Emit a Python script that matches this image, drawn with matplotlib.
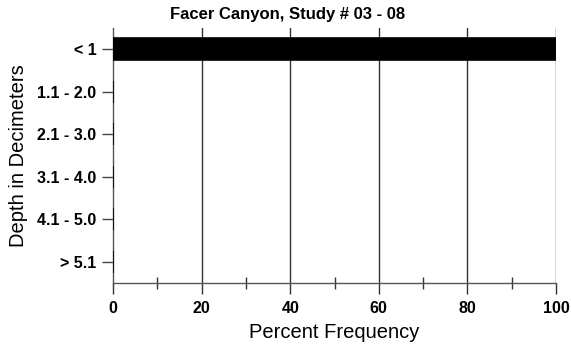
import matplotlib
matplotlib.use("Agg")
import matplotlib.pyplot as plt
import numpy as np

plt.rcParams['font.family'] = ['Liberation Sans', 'DejaVu Sans']

categories = ["< 1", "1.1 - 2.0", "2.1 - 3.0", "3.1 - 4.0", "4.1 - 5.0", "> 5.1"]
values = [100, 0, 0, 0, 0, 0]
xticks_major = [0, 20, 40, 60, 80, 100]
xticks_minor = [10, 30, 50, 70, 90]

fig = plt.figure(figsize=(5.71, 3.48), dpi=100)
ax = fig.add_axes([113/571, 1-283/348, (556-113)/571, (283-28)/348])

y = np.arange(len(categories))
ax.barh(y, values, height=0.52, color='black', edgecolor='black', linewidth=1.2, zorder=3)

ax.set_xlim(0, 100)
ax.set_ylim(len(categories) - 0.5, -0.5)

for gx in xticks_major[1:]:
    ax.axvline(gx, color='#333333', linewidth=1.0, zorder=1)

ax.set_xticks(xticks_major)
ax.set_xticks(xticks_minor, minor=True)
ax.set_xticklabels([str(v) for v in xticks_major], fontweight='bold', fontsize=11.5)
ax.tick_params(axis='x', which='major', direction='out', length=8, width=1, color='#333333', pad=5)
ax.tick_params(axis='x', which='minor', direction='inout', length=9, width=1, color='#333333')

ax.set_yticks(y)
ax.set_yticklabels(categories, fontweight='bold', fontsize=11.5)
ax.tick_params(axis='y', direction='out', length=8, width=1, color='#444444', pad=4)

for s in ['top', 'right']:
    ax.spines[s].set_visible(False)
for s in ['left', 'bottom']:
    ax.spines[s].set_color('#555555')
    ax.spines[s].set_linewidth(1.0)

ax.set_xlabel("Percent Frequency", fontsize=14.5)
ax.set_ylabel("Depth in Decimeters", fontsize=14.5)
ax.xaxis.set_label_coords(0.5, (283-333)/255)
ax.yaxis.set_label_coords((19-113)/443, 0.5)
ax.xaxis.label.set_va('center')
ax.yaxis.label.set_va('center')

fig.text(288/571, 1-15/348, "Facer Canyon, Study # 03 - 08", ha='center', va='center',
         fontsize=12, fontweight='bold')

fig.savefig("out.png", dpi=100)
